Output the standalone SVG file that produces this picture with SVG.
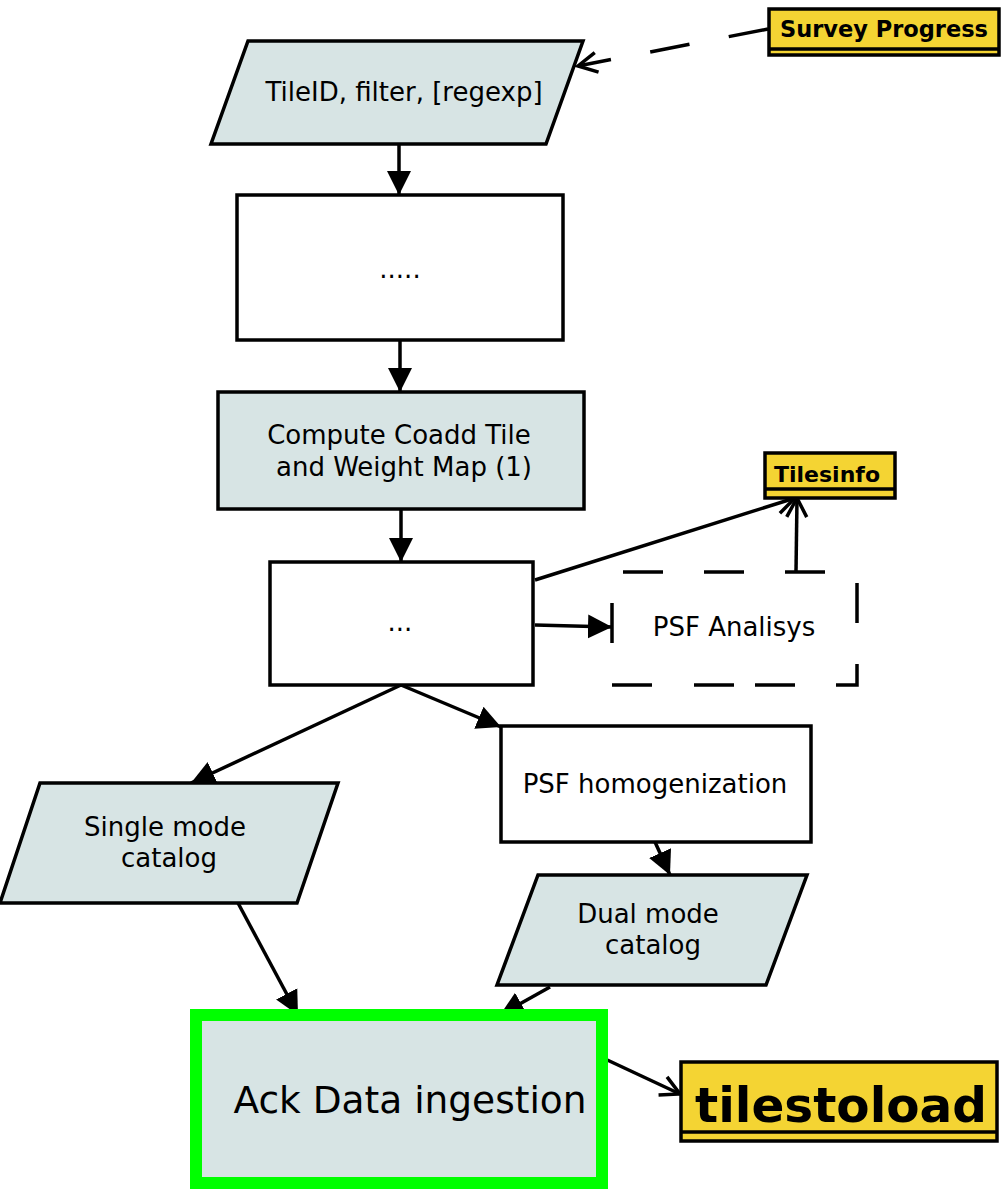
<svg xmlns="http://www.w3.org/2000/svg" width="1008" height="1192" viewBox="0 0 1008 1192">
  <style>
    .shape { stroke: #000; stroke-width: 3.5; }
    .data { fill: #d7e4e4; }
    .plain { fill: #fff; }
    .store { fill: #f4d433; stroke: #000; stroke-width: 3.5; }
    .lbl { font-family: "DejaVu Sans", sans-serif; font-size: 26px; fill: #000; text-anchor: middle; }
    .big { font-family: "DejaVu Sans", sans-serif; font-size: 37.5px; fill: #000; text-anchor: middle; }
    .tag { font-family: "DejaVu Sans", sans-serif; font-weight: bold; fill: #000; text-anchor: middle; }
    .conn { stroke: #000; stroke-width: 3.5; fill: none; }
  </style>
  <defs>
    <marker id="solid" markerUnits="userSpaceOnUse" markerWidth="26" markerHeight="26" refX="24" refY="12" orient="auto" viewBox="0 0 26 24">
      <path d="M0,0 L24,12 L0,24 Z" fill="#000"/>
    </marker>
    <marker id="open" markerUnits="userSpaceOnUse" markerWidth="26" markerHeight="26" refX="21" refY="12" orient="auto" viewBox="0 0 26 24">
      <path d="M2,2 L21,12 L2,22" fill="none" stroke="#000" stroke-width="3.5"/>
    </marker>
  </defs>

  <!-- connectors -->
  <g id="connectors">
    <path class="conn" d="M768,29 L578,66" stroke-dasharray="40,40" marker-end="url(#open)"/>
    <path class="conn" d="M399,145 L399,195" marker-end="url(#solid)"/>
    <path class="conn" d="M400,340 L400,392" marker-end="url(#solid)"/>
    <path class="conn" d="M401,509 L401,562" marker-end="url(#solid)"/>
    <path class="conn" d="M535,625 L612,627" marker-end="url(#solid)"/>
    <path class="conn" d="M535,580 L795,498" marker-end="url(#open)"/>
    <path class="conn" d="M796,572 L797,498" marker-end="url(#open)"/>
    <path class="conn" d="M401,685 L501,727" marker-end="url(#solid)"/>
    <path class="conn" d="M401,685 L191,783" marker-end="url(#solid)"/>
    <path class="conn" d="M655,842 L670,875" marker-end="url(#solid)"/>
    <path class="conn" d="M238,903 L298,1015" marker-end="url(#solid)"/>
    <path class="conn" d="M550,987 L500,1015" marker-end="url(#solid)"/>
    <path class="conn" d="M603,1058 L680,1094" marker-end="url(#open)"/>
  </g>

  <!-- input parameters -->
  <g id="input">
    <polygon class="shape data" points="248,41 583,41 546,144 211,144"/>
    <text class="lbl" x="404" y="101">TileID, filter, [regexp]</text>
  </g>

  <g id="step1">
    <rect class="shape plain" x="237" y="195" width="326" height="145"/>
    <text class="lbl" x="400" y="278">.....</text>
  </g>

  <g id="coadd">
    <rect class="shape data" x="218" y="392" width="366" height="117"/>
    <text class="lbl" x="399" y="444">Compute Coadd Tile</text>
    <text class="lbl" x="404" y="476">and Weight Map (1)</text>
  </g>

  <g id="step2">
    <rect class="shape plain" x="270" y="562" width="263" height="123"/>
    <text class="lbl" x="400" y="631">...</text>
  </g>

  <!-- optional PSF analysis (dashed outline) -->
  <g id="psf-analysis">
    <rect x="612" y="572" width="245" height="113" fill="#fff"/>
    <path class="conn" d="M623,572 H663 M704,572 H744 M785,572 H825 M857,583 V623 M857,664 V685 H836 M795,685 H755 M734,685 H694 M652,685 H612 M612,603 V643"/>
    <text class="lbl" x="734" y="636">PSF Analisys</text>
  </g>

  <g id="tilesinfo">
    <rect class="store" x="765" y="453" width="130" height="45"/>
    <line class="conn" x1="765" y1="489" x2="895" y2="489"/>
    <text class="tag" x="827" y="482" font-size="22">Tilesinfo</text>
  </g>

  <g id="survey-progress">
    <rect class="store" x="769" y="9" width="230" height="46"/>
    <line class="conn" x1="769" y1="49" x2="999" y2="49"/>
    <text class="tag" x="884" y="37" font-size="22.5">Survey Progress</text>
  </g>

  <g id="psf-homogenization">
    <rect class="shape plain" x="501" y="726" width="310" height="116"/>
    <text class="lbl" x="655" y="793">PSF homogenization</text>
  </g>

  <g id="single-catalog">
    <polygon class="shape data" points="40,783 338,783 297,903 0,903"/>
    <text class="lbl" x="165" y="836">Single mode</text>
    <text class="lbl" x="169" y="867">catalog</text>
  </g>

  <g id="dual-catalog">
    <polygon class="shape data" points="538,875 807,875 766,985 497,985"/>
    <text class="lbl" x="648" y="923">Dual mode</text>
    <text class="lbl" x="653" y="954">catalog</text>
  </g>

  <g id="ingestion">
    <rect x="196" y="1015" width="406" height="168" fill="#d7e4e4" stroke="#00ff00" stroke-width="12"/>
    <text class="big" x="410" y="1113">Ack Data ingestion</text>
  </g>

  <g id="tilestoload">
    <rect class="store" x="681" y="1062" width="316" height="79"/>
    <line class="conn" x1="681" y1="1132" x2="997" y2="1132"/>
    <text class="tag" x="841" y="1122" font-size="48.5">tilestoload</text>
  </g>
</svg>
